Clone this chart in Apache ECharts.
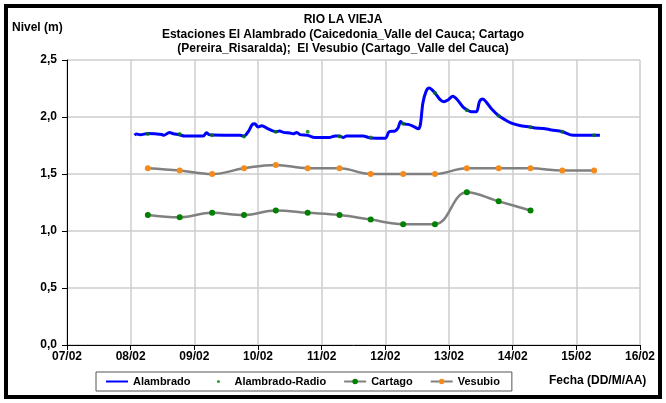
<!DOCTYPE html>
<html>
<head>
<meta charset="utf-8">
<script src="https://cdn.jsdelivr.net/npm/echarts@6/dist/echarts.min.js"></script>
<style>
  html, body { margin: 0; padding: 0; background: #fff; }
  #chart { width: 666px; height: 403px; }
</style>
</head>
<body>
<div id="chart"></div>
<script>
// days counted from 07/02 00:00
const xTickLabels = ['07/02', '08/02', '09/02', '10/02', '11/02', '12/02', '13/02', '14/02', '15/02', '16/02'];

// Alambrado: [day, nivel]
const alambrado = [
    [1.06, 1.84], [1.09, 1.85], [1.15, 1.845], [1.27, 1.855], [1.49, 1.847], [1.52, 1.839],
    [1.61, 1.865], [1.67, 1.853], [1.76, 1.845], [1.85, 1.833], [2.14, 1.833], [2.19, 1.862],
    [2.23, 1.845], [2.28, 1.842], [2.72, 1.839], [2.78, 1.833], [2.85, 1.874], [2.92, 1.939],
    [2.95, 1.94], [3.0, 1.912], [3.06, 1.924], [3.16, 1.895], [3.28, 1.871], [3.34, 1.877],
    [3.4, 1.865], [3.5, 1.86], [3.55, 1.853], [3.61, 1.865], [3.66, 1.845], [3.78, 1.839],
    [3.89, 1.821], [4.13, 1.821], [4.21, 1.833], [4.28, 1.833], [4.34, 1.821], [4.39, 1.833],
    [4.65, 1.833], [4.77, 1.816], [5.0, 1.814], [5.06, 1.871], [5.15, 1.877], [5.2, 1.904],
    [5.24, 1.961], [5.28, 1.941], [5.36, 1.935], [5.44, 1.918], [5.52, 1.897], [5.55, 1.932],
    [5.59, 2.123], [5.64, 2.225], [5.69, 2.254], [5.73, 2.24], [5.78, 2.211], [5.86, 2.152],
    [5.92, 2.134], [5.99, 2.152], [6.06, 2.181], [6.13, 2.152], [6.22, 2.088], [6.28, 2.064],
    [6.35, 2.046], [6.43, 2.046], [6.48, 2.137], [6.53, 2.158], [6.59, 2.128], [6.67, 2.07],
    [6.78, 2.011], [6.88, 1.976], [6.98, 1.947], [7.11, 1.926], [7.28, 1.912], [7.35, 1.904],
    [7.48, 1.9], [7.61, 1.886], [7.78, 1.871], [7.95, 1.839], [8.11, 1.839], [8.28, 1.839],
    [8.37, 1.839]
];

// observation times (twice a day)
const obsDays = [1.27, 1.77, 2.28, 2.78, 3.28, 3.78, 4.28, 4.77, 5.28, 5.78, 6.28, 6.78, 7.28, 7.78, 8.28];
const radio = [1.85, 1.85, 1.84, 1.83, 1.87, 1.87, 1.83, 1.82, 1.94, 2.21, 2.06, 2.01, 1.91, 1.87, 1.84];
const cartago = [1.14, 1.12, 1.16, 1.14, 1.18, 1.16, 1.14, 1.10, 1.06, 1.06, 1.34, 1.26, 1.18];
const vesubio = [1.55, 1.53, 1.50, 1.55, 1.58, 1.55, 1.55, 1.50, 1.50, 1.50, 1.55, 1.55, 1.55, 1.53, 1.53];

const pairUp = (vals) => vals.map((v, i) => [obsDays[i], v]);

const font = "'Liberation Sans', Arial, sans-serif";
const myChart = echarts.init(document.getElementById('chart'), null, { renderer: 'canvas' });
const option = {
    animation: false,
    backgroundColor: '#fff',
    textStyle: { fontFamily: font },
    title: {
        text: 'RIO LA VIEJA',
        subtext: 'Estaciones El Alambrado (Caicedonia_Valle del Cauca; Cartago\n(Pereira_Risaralda);  El Vesubio (Cartago_Valle del Cauca)',
        left: 338,
        top: 9,
        textAlign: 'center',
        itemGap: 2,
        textStyle: { fontSize: 12, fontWeight: 'bold', color: '#000', fontFamily: font },
        subtextStyle: { fontSize: 12, fontWeight: 'bold', color: '#000', fontFamily: font, lineHeight: 14 },
    },
    grid: {
        left: 67,
        right: 26,
        top: 60,
        bottom: 58,
    },
    legend: {
        left: 96,
        top: 372,
        padding: [4, 12, 4, 10],
        itemGap: 17,
        itemWidth: 22,
        itemHeight: 7,
        borderColor: '#555',
        borderWidth: 1,
        textStyle: { fontSize: 11, fontWeight: 'bold', color: '#000', fontFamily: font },
        data: [
            { name: 'Alambrado', icon: 'path://M0,0M22,7M0,2.5L22,2.5L22,4.5L0,4.5Z' },
            { name: 'Alambrado-Radio', icon: 'path://M0,0M22,7M9.5,3.5a1.5,1.5 0 1,0 3,0a1.5,1.5 0 1,0 -3,0Z' },
            'Cartago',
            'Vesubio',
        ],
    },
    xAxis: {
        type: 'value',
        min: 0,
        max: 9,
        interval: 1,
        axisLine: { lineStyle: { color: '#000', width: 1 } },
        axisTick: { inside: false, length: 5, lineStyle: { color: '#000' } },
        axisLabel: {
            margin: 6,
            color: '#000',
            fontSize: 12,
            fontWeight: 'bold',
            fontFamily: font,
            formatter: function (value) {
                return xTickLabels[Math.round(value)];
            },
        },
        splitLine: { show: true, lineStyle: { color: '#cccccc', width: 1.5 } },
    },
    yAxis: {
        type: 'value',
        min: 0,
        max: 2.5,
        interval: 0.5,
        axisLine: { show: true, lineStyle: { color: '#000', width: 1 } },
        axisTick: { show: true, length: 5, lineStyle: { color: '#000' } },
        axisLabel: {
            margin: 10,
            color: '#000',
            fontSize: 12,
            fontWeight: 'bold',
            fontFamily: font,
            formatter: function (value) {
                return value.toFixed(1).replace('.', ',');
            },
        },
        splitLine: { show: true, lineStyle: { color: '#cccccc', width: 1.5 } },
    },
    graphic: [
        {
            type: 'text',
            left: 12,
            top: 22,
            style: { text: 'Nivel (m)', font: 'bold 12px ' + font, fill: '#000' },
        },
        {
            type: 'text',
            left: 549,
            top: 375,
            style: { text: 'Fecha (DD/M/AA)', font: 'bold 12px ' + font, fill: '#000' },
        },
        {
            type: 'rect',
            shape: { x: 6, y: 6, width: 654, height: 391 },
            style: { fill: 'none', stroke: '#000', lineWidth: 4 },
            silent: true,
        },
    ],
    series: [
        {
            name: 'Alambrado',
            type: 'line',
            data: alambrado,
            showSymbol: false,
            smooth: 0.3,
            color: '#0000ff',
            lineStyle: { color: '#0000ff', width: 3 },
            z: 3,
        },
        {
            name: 'Alambrado-Radio',
            type: 'scatter',
            data: pairUp(radio),
            symbolSize: 4,
            color: '#008000',
            itemStyle: { color: '#008000' },
            z: 4,
        },
        {
            name: 'Cartago',
            type: 'line',
            data: pairUp(cartago),
            smooth: 0.4,
            symbol: 'circle',
            symbolSize: 6,
            color: '#008000',
            itemStyle: { color: '#008000' },
            lineStyle: { color: '#808080', width: 2.5 },
        },
        {
            name: 'Vesubio',
            type: 'line',
            data: pairUp(vesubio),
            smooth: 0.4,
            symbol: 'circle',
            symbolSize: 6,
            color: '#f28c1e',
            itemStyle: { color: '#f28c1e' },
            lineStyle: { color: '#808080', width: 2.5 },
        },
    ],
};
myChart.setOption(option);
window.addEventListener('resize', myChart.resize);
</script>
</body>
</html>
